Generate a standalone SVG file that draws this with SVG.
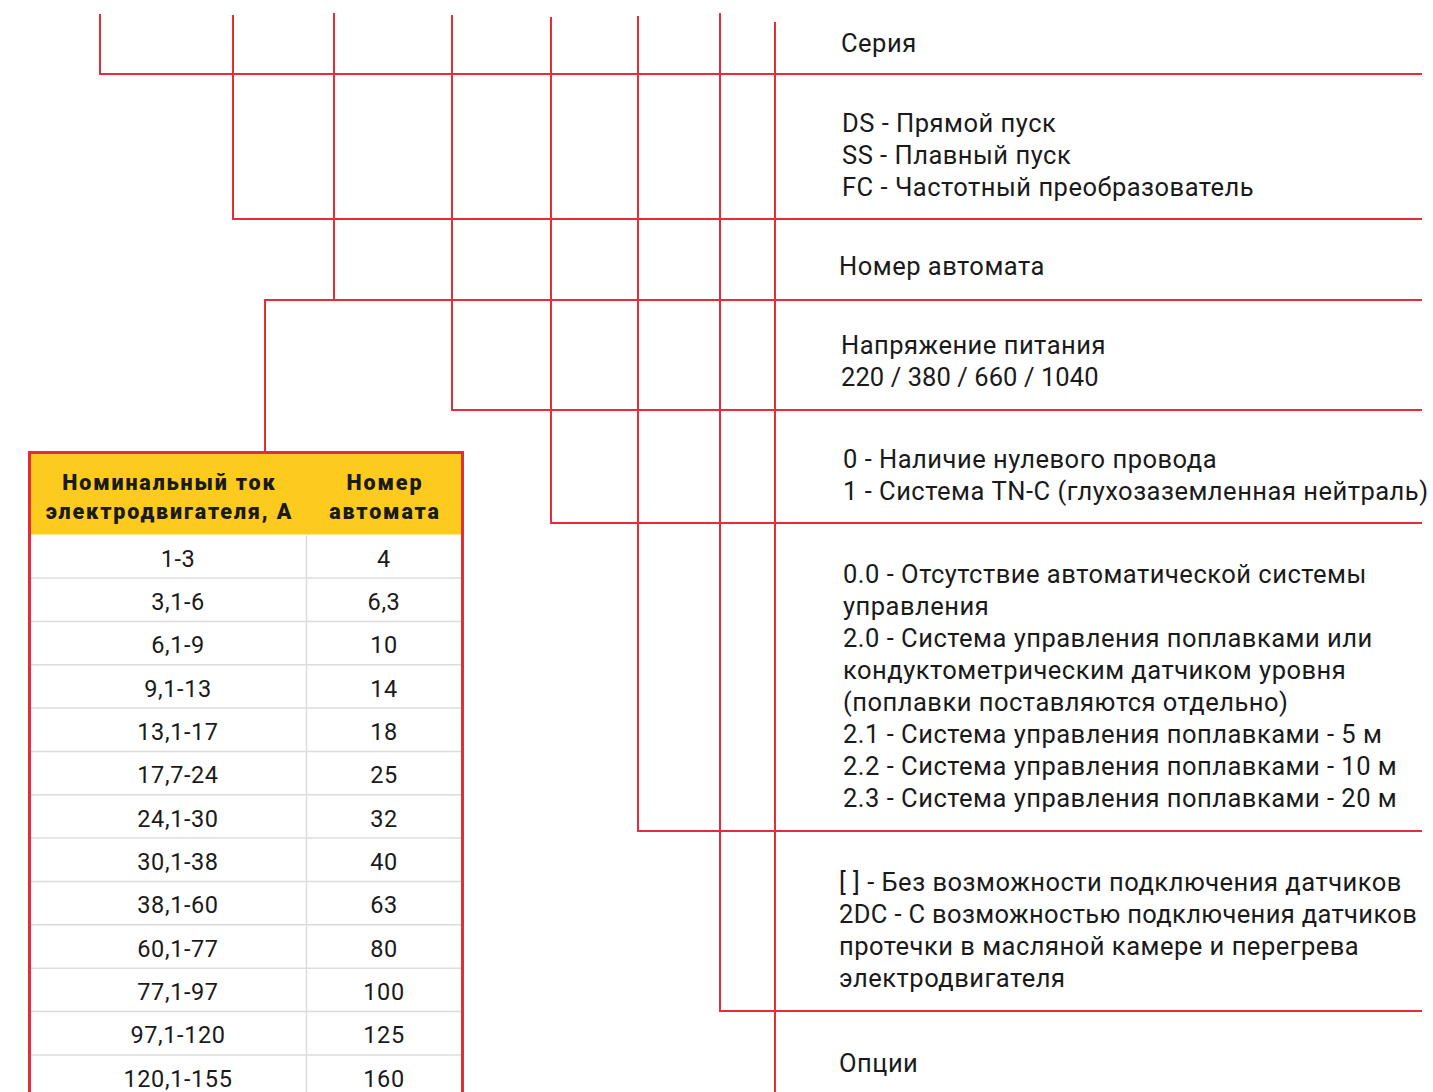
<svg xmlns="http://www.w3.org/2000/svg" width="1433" height="1092" viewBox="0 0 1433 1092">
<style>
.ln{stroke:#e52d3a;stroke-width:2;fill:none}
.t{font-family:Roboto,"Liberation Sans",sans-serif;font-size:25.5px;letter-spacing:0.5px;fill:#1a1a1a}
.h{font-family:Roboto,"Liberation Sans",sans-serif;font-size:21.5px;font-weight:900;letter-spacing:1.85px;fill:#1a1a1a;text-anchor:middle}
.c{font-family:Roboto,"Liberation Sans",sans-serif;font-size:23.5px;letter-spacing:0.6px;fill:#1a1a1a;text-anchor:middle}
.g{stroke:#dcdcdc;stroke-width:1.5}
</style>
<rect width="1433" height="1092" fill="#ffffff"/>
<g id="connectors">
<path class="ln" d="M100 14V74H1422"/>
<path class="ln" d="M233 15V219H1422"/>
<path class="ln" d="M334 13V300"/>
<path class="ln" d="M265 451V300H1422"/>
<path class="ln" d="M452 15V410H1422"/>
<path class="ln" d="M551 17V523H1422"/>
<path class="ln" d="M638 16V831H1422"/>
<path class="ln" d="M720 13V1011H1422"/>
<path class="ln" d="M775 22V1092"/>
</g>
<g id="label-series"><text class="t" x="841" y="52">Серия</text></g>
<g id="label-start"><text class="t" x="842" y="132">DS - Прямой пуск</text><text class="t" x="842" y="164">SS - Плавный пуск</text><text class="t" x="842" y="196">FC - Частотный преобразователь</text></g>
<g id="label-breaker"><text class="t" x="839" y="275">Номер автомата</text></g>
<g id="label-voltage"><text class="t" x="841" y="354">Напряжение питания</text><text class="t" x="841" y="386" style="letter-spacing:0.08px">220 / 380 / 660 / 1040</text></g>
<g id="label-neutral"><text class="t" x="843" y="468">0 - Наличие нулевого провода</text><text class="t" x="843" y="500">1 - Система TN-C (глухозаземленная нейтраль)</text></g>
<g id="label-control"><text class="t" x="843" y="583">0.0 - Отсутствие автоматической системы</text><text class="t" x="843" y="615">управления</text><text class="t" x="843" y="647">2.0 - Система управления поплавками или</text><text class="t" x="843" y="679">кондуктометрическим датчиком уровня</text><text class="t" x="843" y="711">(поплавки поставляются отдельно)</text><text class="t" x="843" y="743">2.1 - Система управления поплавками - 5 м</text><text class="t" x="843" y="775">2.2 - Система управления поплавками - 10 м</text><text class="t" x="843" y="807">2.3 - Система управления поплавками - 20 м</text></g>
<g id="label-sensors"><text class="t" x="839" y="891">[ ] - Без возможности подключения датчиков</text><text class="t" x="839" y="923" style="letter-spacing:0.35px">2DC - С возможностью подключения датчиков</text><text class="t" x="839" y="955">протечки в масляной камере и перегрева</text><text class="t" x="839" y="987">электродвигателя</text></g>
<g id="label-options"><text class="t" x="839" y="1072">Опции</text></g>
<g id="table">
<rect x="29.5" y="452.5" width="433" height="660" fill="#ffffff"/>
<rect x="29.5" y="452.5" width="433" height="82" fill="#fdcb1d"/>
<g class="g">
<line x1="306.5" y1="534.7" x2="306.5" y2="1092"/>
<line x1="30" y1="578" x2="462" y2="578"/>
<line x1="30" y1="621.4" x2="462" y2="621.4"/>
<line x1="30" y1="664.7" x2="462" y2="664.7"/>
<line x1="30" y1="708" x2="462" y2="708"/>
<line x1="30" y1="751.4" x2="462" y2="751.4"/>
<line x1="30" y1="794.7" x2="462" y2="794.7"/>
<line x1="30" y1="838" x2="462" y2="838"/>
<line x1="30" y1="881.4" x2="462" y2="881.4"/>
<line x1="30" y1="924.8" x2="462" y2="924.8"/>
<line x1="30" y1="968.2" x2="462" y2="968.2"/>
<line x1="30" y1="1011.5" x2="462" y2="1011.5"/>
<line x1="30" y1="1054.9" x2="462" y2="1054.9"/>
</g>
<rect x="29.5" y="452.5" width="433" height="660" fill="none" stroke="#e52d3a" stroke-width="3"/>
<text class="h" x="169.5" y="490">Номинальный ток</text>
<text class="h" x="169.5" y="519">электродвигателя, А</text>
<text class="h" x="385" y="490">Номер</text>
<text class="h" x="385" y="519">автомата</text>
<text class="c" x="178" y="566.5">1-3</text><text class="c" x="384" y="566.5">4</text>
<text class="c" x="178" y="609.8">3,1-6</text><text class="c" x="384" y="609.8">6,3</text>
<text class="c" x="178" y="653.2">6,1-9</text><text class="c" x="384" y="653.2">10</text>
<text class="c" x="178" y="696.5">9,1-13</text><text class="c" x="384" y="696.5">14</text>
<text class="c" x="178" y="739.9">13,1-17</text><text class="c" x="384" y="739.9">18</text>
<text class="c" x="178" y="783.2">17,7-24</text><text class="c" x="384" y="783.2">25</text>
<text class="c" x="178" y="826.6">24,1-30</text><text class="c" x="384" y="826.6">32</text>
<text class="c" x="178" y="869.9">30,1-38</text><text class="c" x="384" y="869.9">40</text>
<text class="c" x="178" y="913.3">38,1-60</text><text class="c" x="384" y="913.3">63</text>
<text class="c" x="178" y="956.6">60,1-77</text><text class="c" x="384" y="956.6">80</text>
<text class="c" x="178" y="1000">77,1-97</text><text class="c" x="384" y="1000">100</text>
<text class="c" x="178" y="1043.3">97,1-120</text><text class="c" x="384" y="1043.3">125</text>
<text class="c" x="178" y="1086.7">120,1-155</text><text class="c" x="384" y="1086.7">160</text>
</g>
</svg>
